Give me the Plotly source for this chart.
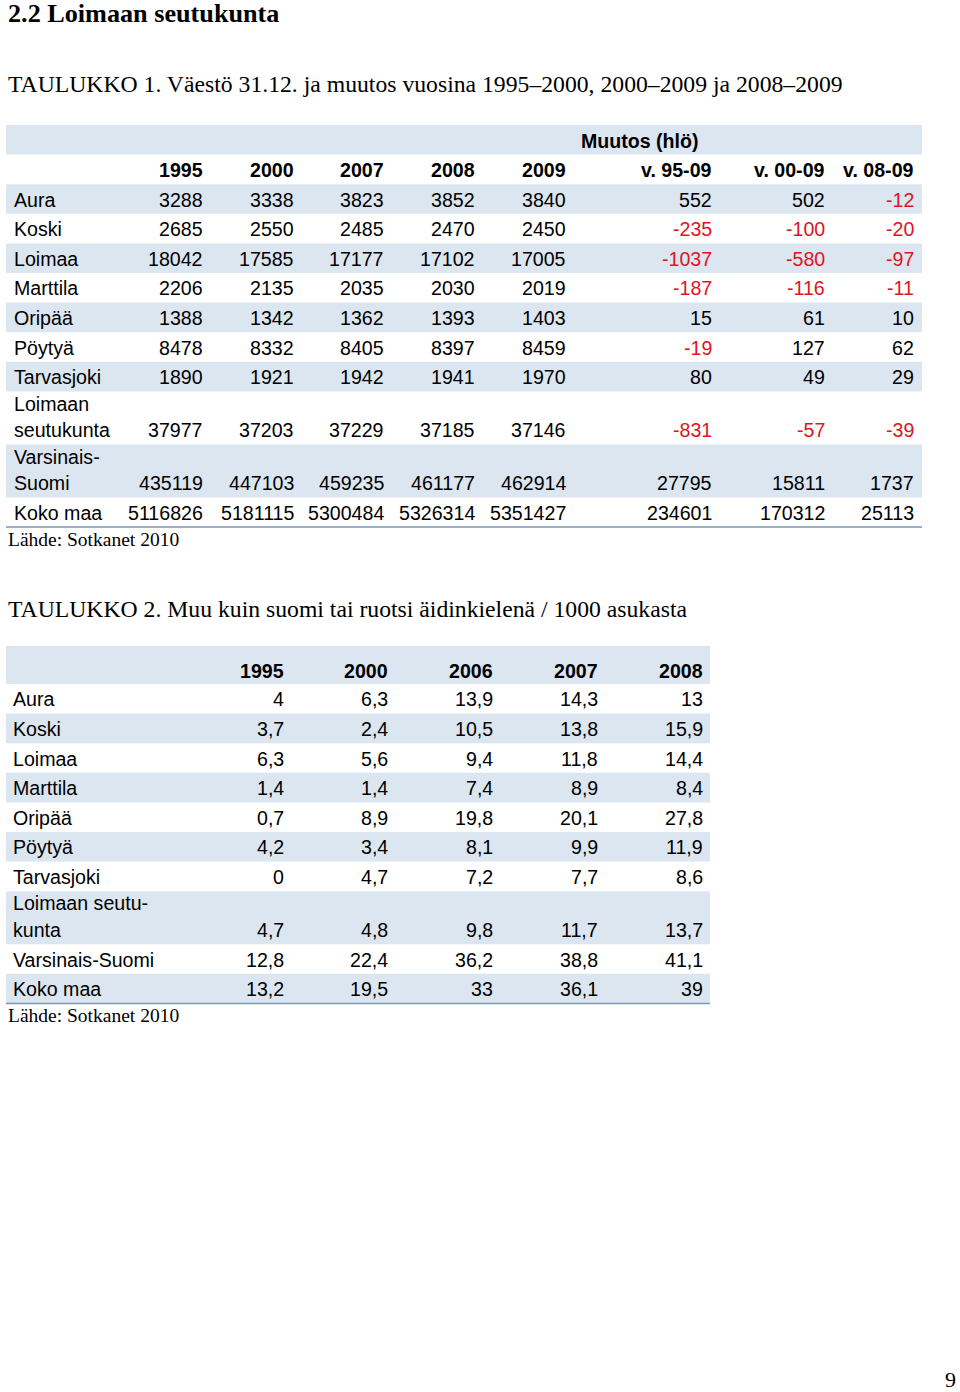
import plotly.graph_objects as go

SANS = "Liberation Sans, Arial, sans-serif"
SERIF = "Liberation Serif, Times New Roman, serif"
BAND = "#DCE6F1"
RED = "#E0151F"
RULE = "#7A98B8"

PAGE_TITLE = "2.2 Loimaan seutukunta"
T1_TITLE = "TAULUKKO 1. Väestö 31.12. ja muutos vuosina 1995–2000, 2000–2009 ja 2008–2009"
T2_TITLE = "TAULUKKO 2. Muu kuin suomi tai ruotsi äidinkielenä / 1000 asukasta"
SOURCE = "Lähde: Sotkanet 2010"
PAGE_NO = "9"

# --- Taulukko 1: väestö ja muutos ---
T1_GROUP = "Muutos (hlö)"
T1_COLS = ["1995", "2000", "2007", "2008", "2009", "v. 95-09", "v. 00-09", "v. 08-09"]
T1_LABELS = ["Aura", "Koski", "Loimaa", "Marttila", "Oripää", "Pöytyä", "Tarvasjoki",
             "Loimaan|seutukunta", "Varsinais-|Suomi", "Koko maa"]
t1_1995 = [3288, 2685, 18042, 2206, 1388, 8478, 1890, 37977, 435119, 5116826]
t1_2000 = [3338, 2550, 17585, 2135, 1342, 8332, 1921, 37203, 447103, 5181115]
t1_2007 = [3823, 2485, 17177, 2035, 1362, 8405, 1942, 37229, 459235, 5300484]
t1_2008 = [3852, 2470, 17102, 2030, 1393, 8397, 1941, 37185, 461177, 5326314]
t1_2009 = [3840, 2450, 17005, 2019, 1403, 8459, 1970, 37146, 462914, 5351427]
t1_d9509 = [552, -235, -1037, -187, 15, -19, 80, -831, 27795, 234601]
t1_d0009 = [502, -100, -580, -116, 61, 127, 49, -57, 15811, 170312]
t1_d0809 = [-12, -20, -97, -11, 10, 62, 29, -39, 1737, 25113]
T1_DATA = [t1_1995, t1_2000, t1_2007, t1_2008, t1_2009, t1_d9509, t1_d0009, t1_d0809]

# --- Taulukko 2: vieraskieliset / 1000 asukasta ---
T2_COLS = ["1995", "2000", "2006", "2007", "2008"]
T2_LABELS = ["Aura", "Koski", "Loimaa", "Marttila", "Oripää", "Pöytyä", "Tarvasjoki",
             "Loimaan seutu-|kunta", "Varsinais-Suomi", "Koko maa"]
t2_1995 = [4, 3.7, 6.3, 1.4, 0.7, 4.2, 0, 4.7, 12.8, 13.2]
t2_2000 = [6.3, 2.4, 5.6, 1.4, 8.9, 3.4, 4.7, 4.8, 22.4, 19.5]
t2_2006 = [13.9, 10.5, 9.4, 7.4, 19.8, 8.1, 7.2, 9.8, 36.2, 33]
t2_2007 = [14.3, 13.8, 11.8, 8.9, 20.1, 9.9, 7.7, 11.7, 38.8, 36.1]
t2_2008 = [13, 15.9, 14.4, 8.4, 27.8, 11.9, 8.6, 13.7, 41.1, 39]
T2_DATA = [t2_1995, t2_2000, t2_2006, t2_2007, t2_2008]

# layout constants (page pixels)
ROW_H = 29.6
ROW_H2 = 53.0
LINE_GAP = 26.5
FS = 19.6

fig = go.Figure()
shapes = []
notes = []


def text(x, y, s, size=FS, font=SANS, anchor="right", color="#000", bold=False):
    if bold:
        s = f"<b>{s}</b>"
    notes.append(dict(x=x, y=y, text=s, showarrow=False, xanchor=anchor, yanchor="middle",
                      xref="x", yref="y", borderpad=0,
                      font=dict(family=font, size=size, color=color)))


def band(x0, x1, y0, y1):
    shapes.append(dict(type="rect", xref="x", yref="y", x0=x0, x1=x1, y0=y0, y1=y1,
                       fillcolor=BAND, line=dict(width=0), layer="below"))


def rule(x0, x1, y):
    shapes.append(dict(type="line", xref="x", yref="y", x0=x0, x1=x1, y0=y, y1=y,
                       line=dict(color=RULE, width=1.5)))


def body(labels, data, col_x, top, left, right, label_x, first_band, fmt, colorize):
    y = top
    for i, lab in enumerate(labels):
        lines = lab.split("|")
        h = ROW_H if len(lines) == 1 else ROW_H2
        if (i % 2 == 0) == first_band:
            band(left, right, y, y + h)
        ty = y + h - 14.3
        for k, ln in enumerate(reversed(lines)):
            text(label_x, ty - k * LINE_GAP, ln, anchor="left")
        for cx, col in zip(col_x, data):
            v = col[i]
            c = RED if (colorize and v < 0) else "#000"
            text(cx, ty, fmt(v), color=c)
        y += h
    return y


# page headings
text(7, 13, PAGE_TITLE, size=26.2, font=SERIF, anchor="left", bold=True)
text(7, 84, T1_TITLE, size=23.7, font=SERIF, anchor="left")
text(7, 609, T2_TITLE, size=23.7, font=SERIF, anchor="left")
text(957, 1379, PAGE_NO, size=22, font=SERIF, anchor="right")

# table 1
T1_LEFT, T1_RIGHT, T1_TOP = 6, 922, 125
T1_X = [204, 295, 385, 476, 567, 713, 826, 915]
band(T1_LEFT, T1_RIGHT, T1_TOP, T1_TOP + ROW_H)
text(640, T1_TOP + ROW_H - 13.5, T1_GROUP, anchor="center", bold=True)
for cx, c in zip(T1_X, T1_COLS):
    text(cx, T1_TOP + 2 * ROW_H - 14, c, bold=True)
end1 = body(T1_LABELS, T1_DATA, T1_X, T1_TOP + 2 * ROW_H, T1_LEFT, T1_RIGHT, 13, True,
            lambda v: str(v), True)
rule(T1_LEFT, T1_RIGHT, end1)
text(7, end1 + 12, SOURCE, size=19.5, font=SERIF, anchor="left")

# table 2
T2_LEFT, T2_RIGHT, T2_TOP, T2_HEAD = 6, 710, 646, 38
T2_X = [285, 389, 494, 599, 704]
band(T2_LEFT, T2_RIGHT, T2_TOP, T2_TOP + T2_HEAD)
for cx, c in zip(T2_X, T2_COLS):
    text(cx, T2_TOP + T2_HEAD - 13, c, bold=True)
end2 = body(T2_LABELS, T2_DATA, T2_X, T2_TOP + T2_HEAD, T2_LEFT, T2_RIGHT, 12, False,
            lambda v: f"{v:g}".replace(".", ","), False)
rule(T2_LEFT, T2_RIGHT, end2)
text(7, end2 + 12, SOURCE, size=19.5, font=SERIF, anchor="left")

fig.update_layout(
    width=960, height=1392,
    margin=dict(l=0, r=0, t=0, b=0),
    paper_bgcolor="white", plot_bgcolor="white",
    xaxis=dict(range=[0, 960], visible=False, fixedrange=True),
    yaxis=dict(range=[1392, 0], visible=False, fixedrange=True),
    shapes=shapes, annotations=notes, showlegend=False,
)
# drop the browser's default body margin so the page sits at (0, 0)
fig.write_html("out.html", config={"displayModeBar": False},
               post_script="document.body.style.margin='0';document.body.style.overflow='hidden';")
